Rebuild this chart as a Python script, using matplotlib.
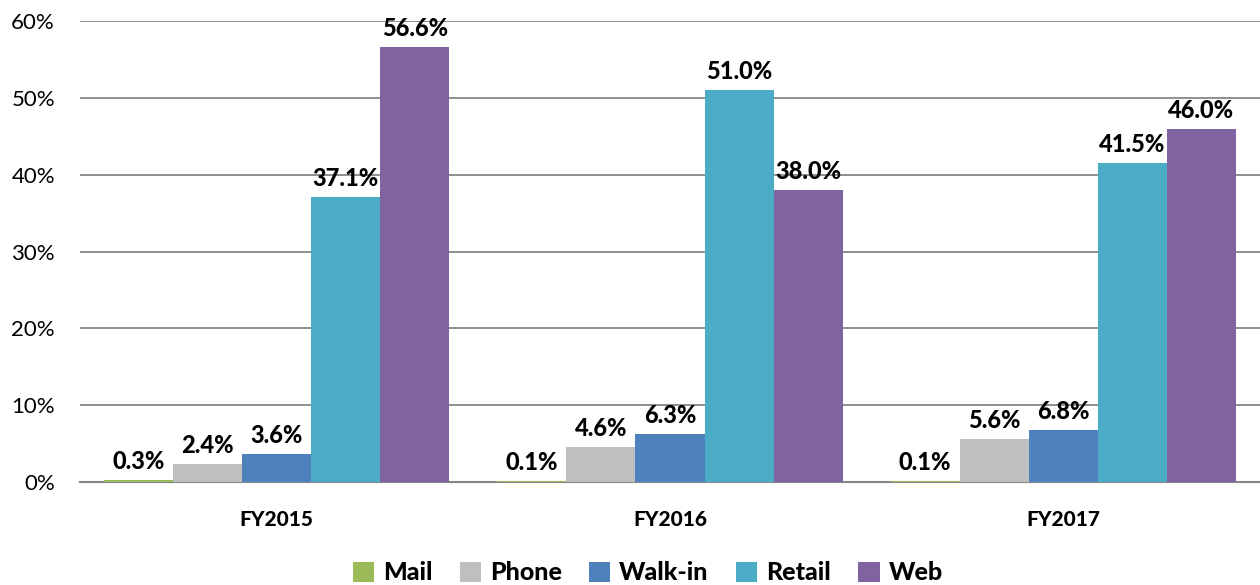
import numpy as np
import matplotlib
matplotlib.use("Agg")
import matplotlib.pyplot as plt

years = ["FY2015", "FY2016", "FY2017"]
channels = ["Mail", "Phone", "Walk-in", "Retail", "Web"]
mail = [0.3, 0.1, 0.1]
phone = [2.4, 4.6, 5.6]
walk_in = [3.6, 6.3, 6.8]
retail = [37.1, 51.0, 41.5]
web = [56.6, 38.0, 46.0]
colors = ["#9BBB59", "#BFBFBF", "#4F81BD", "#4BACC6", "#8064A2"]

plt.rcParams['font.family'] = ['Lato', 'DejaVu Sans']

fig = plt.figure(figsize=(12.6, 5.85), dpi=100)
ax = fig.add_axes([80 / 1260, 1 - 482 / 585, 1180 / 1260, (482 - 21) / 585])

x = np.arange(len(years))
width = 0.1756
series = [mail, phone, walk_in, retail, web]
for i, (name, vals) in enumerate(zip(channels, series)):
    pos = x + (i - 2) * width
    bars = ax.bar(pos, vals, width, color=colors[i], label=name, zorder=3)
    for b, v in zip(bars, vals):
        ax.annotate(f"{v:.1f}%", (b.get_x() + b.get_width() / 2, v),
                    xytext=(0, 5), textcoords="offset points",
                    ha="center", va="bottom", fontsize=17, fontweight="black")

ax.set_xlim(-0.5, 2.5)
ax.set_ylim(0, 60)
ax.set_yticks(range(0, 61, 10))
ax.set_yticklabels([f"{t}%" for t in range(0, 61, 10)], fontsize=16)
ax.set_xticks(x)
ax.set_xticklabels(years, fontsize=15, fontweight="black")
ax.tick_params(axis="y", length=0, pad=18)
ax.tick_params(axis="x", length=0, pad=20)
ax.grid(axis="y", color="#868686", linewidth=1.3, zorder=0)
for s in ["top", "right", "left"]:
    ax.spines[s].set_visible(False)
ax.spines["bottom"].set_color("#868686")
ax.spines["bottom"].set_linewidth(1.5)

leg = fig.legend(loc="center", bbox_to_anchor=(0.514, 1 - 573 / 585),
                 ncol=5, frameon=False, prop={"size": 18, "weight": "black"},
                 handlelength=0.85, handleheight=0.85, handletextpad=0.35, columnspacing=1.1)

fig.savefig("out.png", dpi=100)
